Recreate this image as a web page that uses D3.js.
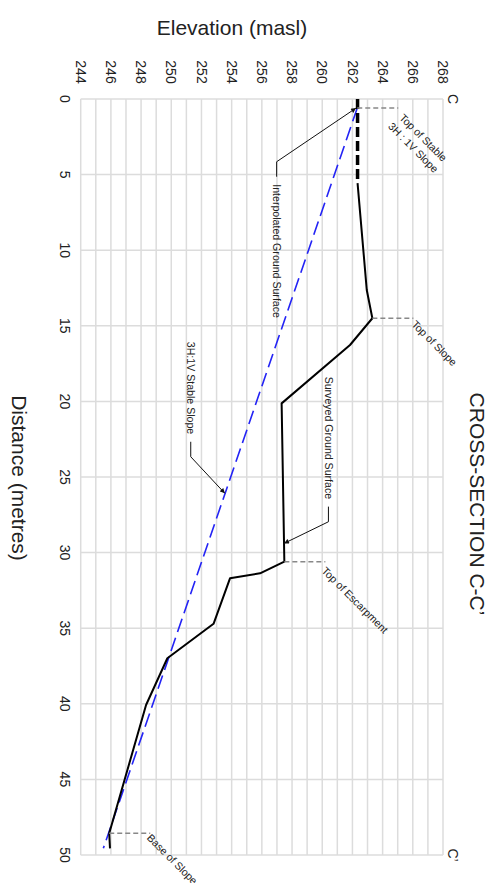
<!DOCTYPE html>
<html>
<head>
<meta charset="utf-8">
<script src="https://cdn.jsdelivr.net/npm/d3@7/dist/d3.min.js"></script>
<style>
body { margin: 0; background: #fff; }
text { font-family: "Liberation Sans", Arial, sans-serif; fill: #222; }
</style>
</head>
<body>
<script>
// surveyed ground surface (distance in m, elevation in masl)
var surveyedDist = [5.56, 12.63, 14.5, 16.27, 20.13, 30.6, 31.37, 31.7, 34.71, 36.99, 40.08, 48.56, 49.56];
var surveyedElev = [262.34, 262.95, 263.32, 261.84, 257.31, 257.49, 255.88, 253.89, 252.8, 249.74, 248.33, 245.89, 245.94];

// interpolated ground surface
var interpDist = [0, 5.56];
var interpElev = [262.34, 262.34];

// 3H:1V stable slope
var stableDist = [0.6, 49.56];
var stableElev = [262.32, 245.5];

var elevTicks = [244, 246, 248, 250, 252, 254, 256, 258, 260, 262, 264, 266, 268];
var distTicks = [0, 5, 10, 15, 20, 25, 30, 35, 40, 45, 50];

// points marked with a grey dashed leader
var markNames = [["Top of Stable", "3H : 1V Slope"], ["Top of Slope"], ["Top of Escarpment"], ["Base of Slope"]];
var markDist = [0.6, 14.5, 30.6, 48.56];
var markElev = [262.32, 263.32, 257.49, 245.89];
var markTextOff = [[38.6, 7], [3, 6.5], [4, 10], [1, 6.5]];

// callouts pointing at the lines
var calloutNames = ["Interpolated Ground Surface", "Surveyed Ground Surface", "3H:1V Stable Slope"];
var calloutStart = [[256.98, 5.14], [260.41, 26.96], [251.29, 22.67]];
var calloutElbow = [[256.98, 4.15], [260.41, 27.96], [251.29, 23.66]];
var calloutTip = [[262.24, 0.6], [257.47, 29.39], [253.55, 26.08]];
var calloutSide = [1, -1, -1]; // text below (1) or above (-1) the leader

var W = 496, H = 883;
var svg = d3.select("body").append("svg").attr("width", W).attr("height", H);

var x = d3.scaleLinear().domain([244, 268]).range([80.7, 443]);
var y = d3.scaleLinear().domain([0, 50]).range([99, 855]);

svg.append("defs").append("marker")
    .attr("id", "arr")
    .attr("markerUnits", "userSpaceOnUse")
    .attr("viewBox", "0 0 10 10")
    .attr("refX", 10).attr("refY", 5)
    .attr("markerWidth", 6).attr("markerHeight", 5)
    .attr("orient", "auto")
    .append("path").attr("d", "M0,0L10,5L0,10z").attr("fill", "#111");

// grid
var grid = svg.append("g");
grid.selectAll("line.v")
    .data(d3.range(244, 269))
    .enter().append("line")
    .attr("x1", function (d) { return x(d); })
    .attr("x2", function (d) { return x(d); })
    .attr("y1", y(0)).attr("y2", y(50))
    .attr("stroke", "#dcdcdc").attr("stroke-width", 1.5);
grid.selectAll("line.h")
    .data(distTicks)
    .enter().append("line")
    .attr("y1", function (d) { return y(d); })
    .attr("y2", function (d) { return y(d); })
    .attr("x1", x(244)).attr("x2", x(268))
    .attr("stroke", "#dcdcdc").attr("stroke-width", 1.5);

// tick labels (rotated with the whole section)
svg.selectAll("text.et")
    .data(elevTicks)
    .enter().append("text")
    .attr("transform", function (d) { return "translate(" + x(d) + ",72) rotate(90)"; })
    .attr("text-anchor", "middle").attr("dy", "0.35em")
    .style("font-size", "14px")
    .text(function (d) { return d; });
svg.selectAll("text.dt")
    .data(distTicks)
    .enter().append("text")
    .attr("transform", function (d) { return "translate(64.5," + y(d) + ") rotate(90)"; })
    .attr("text-anchor", "middle").attr("dy", "0.35em")
    .style("font-size", "14px")
    .text(function (d) { return d; });

svg.append("text").attr("x", 232).attr("y", 35)
    .attr("text-anchor", "middle").style("font-size", "21px")
    .text("Elevation (masl)");
svg.append("text").attr("transform", "translate(19,478) rotate(90)")
    .attr("text-anchor", "middle").attr("dy", "0.35em").style("font-size", "21px")
    .text("Distance (metres)");
svg.append("text").attr("transform", "translate(477,504) rotate(90)")
    .attr("text-anchor", "middle").attr("dy", "0.35em").style("font-size", "21px")
    .text("CROSS-SECTION C-C\u2019");
svg.append("text").attr("transform", "translate(453," + y(0) + ") rotate(90)")
    .attr("text-anchor", "middle").attr("dy", "0.35em").style("font-size", "14px")
    .text("C");
svg.append("text").attr("transform", "translate(453," + y(50) + ") rotate(90)")
    .attr("text-anchor", "middle").attr("dy", "0.35em").style("font-size", "14px")
    .text("C\u2019");

var line = d3.line()
    .x(function (d) { return x(d[1]); })
    .y(function (d) { return y(d[0]); });

svg.append("path")
    .datum(d3.zip(stableDist, stableElev))
    .attr("d", line)
    .attr("fill", "none").attr("stroke", "#2323f5")
    .attr("stroke-width", 1.6).attr("stroke-dasharray", "14,6");

svg.append("path")
    .datum(d3.zip(surveyedDist, surveyedElev))
    .attr("d", line)
    .attr("fill", "none").attr("stroke", "#000")
    .attr("stroke-width", 2).attr("stroke-linejoin", "round");

svg.append("path")
    .datum(d3.zip(interpDist, interpElev))
    .attr("d", line)
    .attr("fill", "none").attr("stroke", "#000")
    .attr("stroke-width", 3.5).attr("stroke-dasharray", "10,4");

// grey dashed markers
markNames.forEach(function (names, i) {
    var px = x(markElev[i]), py = y(markDist[i]);
    var ex = px + 41;
    svg.append("line")
        .attr("x1", px).attr("x2", ex).attr("y1", py).attr("y2", py)
        .attr("stroke", "#888").attr("stroke-width", 1.5).attr("stroke-dasharray", "5,3");
    var g = svg.append("g").attr("transform", "translate(" + ex + "," + py + ") rotate(45)");
    var off = markTextOff[i];
    names.forEach(function (n, j) {
        g.append("text").attr("x", off[0]).attr("y", off[1] + j * 14)
            .attr("text-anchor", names.length > 1 ? "middle" : "start")
            .style("font-size", "10.6px").text(n);
    });
});

// callouts with arrows
calloutNames.forEach(function (n, i) {
    var s = calloutStart[i], e = calloutElbow[i], t = calloutTip[i];
    svg.append("path")
        .attr("d", "M" + x(s[0]) + "," + y(s[1]) + "L" + x(e[0]) + "," + y(e[1]) + "L" + x(t[0]) + "," + y(t[1]))
        .attr("fill", "none").attr("stroke", "#111").attr("stroke-width", 1)
        .attr("marker-end", "url(#arr)");
    var ty = y(s[1]) + calloutSide[i] * 7.5;
    svg.append("text")
        .attr("transform", "translate(" + x(s[0]) + "," + ty + ") rotate(90)")
        .attr("text-anchor", calloutSide[i] > 0 ? "start" : "end")
        .attr("dy", "0.35em").style("font-size", "10.6px")
        .text(n);
});
</script>
</body>
</html>
